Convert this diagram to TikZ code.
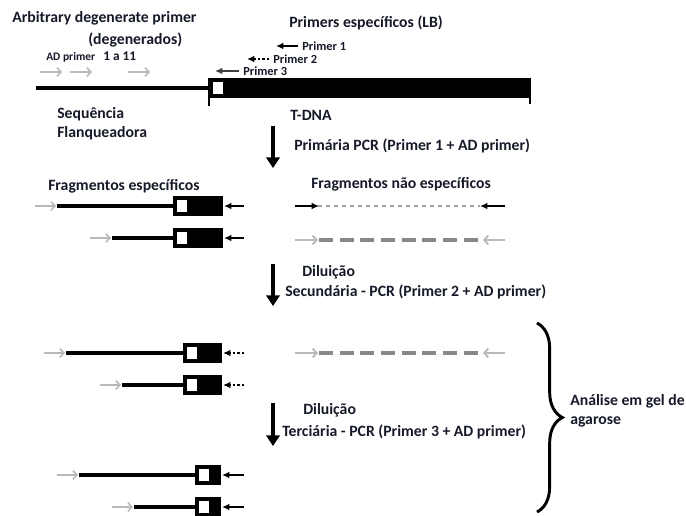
\documentclass[tikz,border=0pt]{standalone}
\usepackage{fontspec}
\setmainfont{Carlito}
\usetikzlibrary{arrows.meta,decorations.pathreplacing}
\definecolor{ink}{RGB}{22,26,40}
\definecolor{adgray}{RGB}{185,185,185}
\definecolor{dashgray}{RGB}{160,160,160}

\begin{document}
\begin{tikzpicture}[
    x=0.75pt, y=-0.75pt,
    lbl/.style={anchor=west, inner sep=0pt, text=ink, font=\bfseries\fontsize{11.8}{14}\selectfont},
    small/.style={lbl, font=\bfseries\fontsize{9.3}{11}\selectfont},
    dna/.style={line width=2.9pt},
    primer/.style={line width=1.8pt, -{Latex[length=5.5pt,width=5pt]}},
    primerdot/.style={primer, dash pattern=on 1.8pt off 1.5pt},
    adarrow/.style={line width=1.2pt, adgray, -{Straight Barb[length=3pt,width=6.5pt]}},
    pcrarrow/.style={line width=2.6pt, -{Triangle[length=8pt,width=10pt]}},
    shortdash/.style={line width=2.2pt, dashgray, dash pattern=on 3pt off 3pt},
    longdash/.style={line width=2.4pt, dashgray!85!black, dash pattern=on 10.5pt off 5pt}
]
    \useasboundingbox (0,0) rectangle (686,515);

    % Titles
    \node[lbl] (arbitrary) at (12,18) {Arbitrary degenerate primer};
    \node[lbl] (degen) at (88,40) {(degenerados)};
    \node[lbl] (especificos) at (289,23) {Primers específicos (LB)};
    \node[small, font=\bfseries\fontsize{8.6}{10}\selectfont] (adprimer) at (46,57) {AD primer};
    \node[lbl, font=\bfseries\fontsize{10}{12}\selectfont] (umaonze) at (103,56) {1 a 11};

    % AD primers
    \foreach \a in {40,70,128} {
        \coordinate (ad\a) at (\a,72);
        \draw[adarrow] (ad\a) -- ++(22,0);
    }

    % Specific primers on the LB
    \node[small] (pone) at (302,46) {Primer 1};
    \node[small] (ptwo) at (273,59) {Primer 2};
    \node[small] (pthree) at (243,71) {Primer 3};
    \draw[primer] ([xshift=-3]pone.west) -- ++(-22,0);
    \draw[primerdot] ([xshift=-3]ptwo.west) -- ++(-22,0);
    \draw[primer, black!75] ([xshift=-3]pthree.west) -- ++(-24,0);

    % Flanking sequence and T-DNA
    \coordinate (flank) at (36,88);
    \coordinate (lb) at (209,88);
    \draw[dna] (flank) -- (lb);
    \fill (209,78) rectangle (530,98);
    \filldraw[fill=white, line width=0.8pt] (212,81) rectangle (224,95);
    \draw[line width=2.2pt] (209,78) -- (209,106);
    \draw[line width=2.2pt] (530,78) -- (530,104);
    \node[lbl] (tdna) at (290,115) {T-DNA};
    \node[lbl, align=left] (flanq) at (57,124) {Sequência\\Flanqueadora};

    % PCR steps
    \coordinate (s1a) at (273,126);
    \coordinate (s1b) at (273,168);
    \draw[pcrarrow] (s1a) -- (s1b);
    \node[lbl] (primaria) at (294,146) {Primária PCR (Primer 1 + AD primer)};

    \coordinate (s2a) at (273,264);
    \coordinate (s2b) at (273,306);
    \draw[pcrarrow] (s2a) -- (s2b);
    \node[lbl] (dil1) at (302,272) {Diluição};
    \node[lbl] (secund) at (285,292) {Secundária - PCR (Primer 2 + AD primer)};

    \coordinate (s3a) at (273,403);
    \coordinate (s3b) at (273,446);
    \draw[pcrarrow] (s3a) -- (s3b);
    \node[lbl] (dil2) at (303,410) {Diluição};
    \node[lbl] (terc) at (282,432) {Terciária - PCR (Primer 3 + AD primer)};

    \node[lbl] (fragesp) at (48,186) {Fragmentos específicos};
    \node[lbl] (fragnao) at (311,184) {Fragmentos não específicos};

    % Specific fragments: y / AD start / box left / box right / primer style
    \foreach \y/\xa/\bl/\br/\pr in {206/35/173/223/primer, 238/90/173/223/primer,
                                   353/44/183/222/primerdot, 385/100/183/222/primerdot,
                                   475/57/195/221/primer, 507/112/195/221/primer} {
        \draw[adarrow] (\xa,\y) -- ++(21,0);
        \draw[dna] (\xa+22,\y) -- (\bl,\y);
        \fill (\bl,\y-10) rectangle (\br,\y+10);
        \filldraw[fill=white, line width=0.8pt] (\bl+3,\y-7) rectangle (\bl+15,\y+7);
        \draw[\pr] (244,\y) -- (\br+1,\y);
    }

    % Non specific fragments
    \draw[shortdash] (318,206) -- (480,206);
    \draw[primer] (295,206) -- (319,206);
    \draw[primer] (505,206) -- (480,206);
    \foreach \y in {240,353} {
        \draw[longdash] (319,\y) -- (482,\y);
        \draw[adarrow, line width=1.4pt] (295,\y) -- (318,\y);
        \draw[adarrow, line width=1.4pt] (505,\y) -- (483,\y);
    }

    % Gel analysis
    \draw[line width=2.2pt, decorate, decoration={brace, amplitude=19pt}] (537,323) -- (537,512);
    \node[lbl, align=left] (gel) at (570,411) {Análise em gel de\\agarose};
\end{tikzpicture}
\end{document}
